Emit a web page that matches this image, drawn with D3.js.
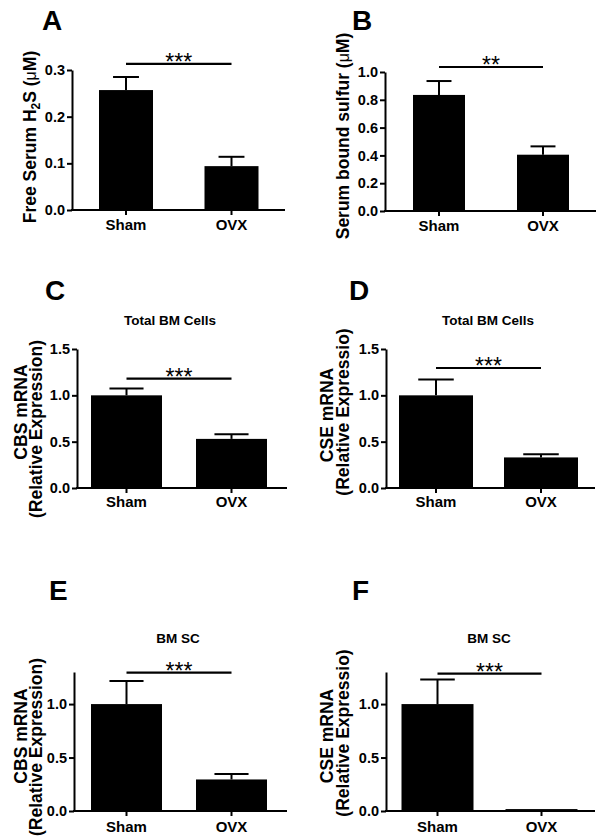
<!DOCTYPE html>
<html><head><meta charset="utf-8">
<script src="https://cdn.jsdelivr.net/npm/d3@7"></script>
<style>
body{margin:0;background:#fff}
svg{display:block}
text{font-family:"Liberation Sans",Arial,Helvetica,sans-serif;fill:#000}
</style>
</head><body>
<svg id="c" width="604" height="839"></svg>
<script>
// ---- data ----
const categories = ["Sham", "OVX"];
const panelLetters = ["A", "B", "C", "D", "E", "F"];
const meansA = [0.257, 0.094], errA = [0.028, 0.020];
const meansB = [0.835, 0.405], errB = [0.100, 0.060];
const meansC = [1.00, 0.53],   errC = [0.075, 0.050];
const meansD = [1.00, 0.33],   errD = [0.170, 0.035];
const meansE = [1.00, 0.295],  errE = [0.215, 0.052];
const meansF = [1.00, 0.018],  errF = [0.230, 0.0];
const ticksA = [0, 0.1, 0.2, 0.3];
const ticksB = [0, 0.2, 0.4, 0.6, 0.8, 1.0];
const ticksC = [0, 0.5, 1.0, 1.5];
const ticksD = [0, 0.5, 1.0, 1.5];
const ticksE = [0, 0.5, 1.0];
const ticksF = [0, 0.5, 1.0];
const yMaxes = [0.3, 1.0, 1.5, 1.5, 1.3, 1.3];
const sigValues = [0.313, 1.036, 1.18, 1.295, 1.295, 1.285];
const sigLabels = ["***", "**", "***", "***", "***", "***"];
const titles = ["", "", "Total BM Cells", "Total BM Cells", "BM SC", "BM SC"];
// y-axis labels: lines of segments (sub = subscript, thin = regular weight)
const yLabels = [
  [[{t:"Free Serum H"},{t:"2",sub:true},{t:"S ("},{t:"\u03bc",thin:true},{t:"M)"}]],
  [[{t:"Serum bound sulfur ("},{t:"\u03bc",thin:true},{t:"M)"}]],
  [[{t:"CBS mRNA"}],[{t:"(Relative Expression)"}]],
  [[{t:"CSE mRNA"}],[{t:"(Relative Expressio)"}]],
  [[{t:"CBS mRNA"}],[{t:"(Relative Expression)"}]],
  [[{t:"CSE mRNA"}],[{t:"(Relative Expressio)"}]]
];
const means = [meansA, meansB, meansC, meansD, meansE, meansF];
const errs = [errA, errB, errC, errD, errE, errF];
const ticks = [ticksA, ticksB, ticksC, ticksD, ticksE, ticksF];

// ---- layout ----
const layouts = [
  {x0:72,  x1:285, yTop:70,  yBot:210, c:[126,231.5],  bw:54, letter:[42,30],  lab:[[36,137]],            title:null,      xlabY:230},
  {x0:385, x1:596, yTop:72,  yBot:211, c:[439,543],    bw:52, letter:[352,30], lab:[[349,136]],           title:null,      xlabY:231},
  {x0:77,  x1:287, yTop:349, yBot:488, c:[126.5,231.5],bw:71, letter:[45,300], lab:[[27,412],[42,429]],   title:[170,325], xlabY:507},
  {x0:386, x1:595, yTop:349, yBot:488, c:[436,541],    bw:74, letter:[349,300],lab:[[333,415],[349,412]], title:[488,325], xlabY:507},
  {x0:74,  x1:287, yTop:672, yBot:811, c:[126.5,231.5],bw:71, letter:[49,600], lab:[[27,736],[42,747]],   title:[178,643], xlabY:832},
  {x0:386, x1:595, yTop:672, yBot:811, c:[437.5,541.5],bw:72, letter:[352,600],lab:[[333,736],[349,733]], title:[489,643], xlabY:832}
];

const svg = d3.select("#c");
const fmt = d3.format(".1f");

layouts.forEach((L, i) => {
  const g = svg.append("g");
  const step = L.c[1] - L.c[0];
  const pi = 1 - L.bw / step;
  const x = d3.scaleBand().domain(categories)
    .range([L.c[0] - step / 2, L.c[1] + step / 2])
    .paddingInner(pi).paddingOuter(pi / 2);
  const y = d3.scaleLinear().domain([0, yMaxes[i]]).range([L.yBot, L.yTop]);
  const data = categories.map((k, j) => ({k, m: means[i][j], e: errs[i][j]}));

  // panel letter
  g.append("text").attr("x", L.letter[0]).attr("y", L.letter[1])
    .attr("font-size", 28).attr("font-weight", "bold").text(panelLetters[i]);

  // title
  if (titles[i]) {
    g.append("text").attr("x", L.title[0]).attr("y", L.title[1])
      .attr("text-anchor", "middle").attr("font-size", 13.5).attr("font-weight", "bold")
      .text(titles[i]);
  }

  // bars
  g.selectAll("rect.bar").data(data).join("rect").attr("class", "bar")
    .attr("x", d => x(d.k)).attr("width", x.bandwidth())
    .attr("y", d => y(d.m)).attr("height", d => y(0) - y(d.m))
    .attr("fill", "#000");

  // error bars
  const cap = x.bandwidth() * 0.48;
  data.filter(d => d.e > 0).forEach(d => {
    const cx = x(d.k) + x.bandwidth() / 2;
    g.append("line").attr("x1", cx).attr("x2", cx)
      .attr("y1", y(d.m)).attr("y2", y(d.m + d.e))
      .attr("stroke", "#000").attr("stroke-width", 2);
    g.append("line").attr("x1", cx - cap / 2).attr("x2", cx + cap / 2)
      .attr("y1", y(d.m + d.e)).attr("y2", y(d.m + d.e))
      .attr("stroke", "#000").attr("stroke-width", 2);
  });

  // y axis
  const ya = g.append("g").attr("transform", `translate(${L.x0},0)`)
    .call(d3.axisLeft(y).tickValues(ticks[i]).tickFormat(fmt)
      .tickSize(5).tickSizeOuter(0).tickPadding(2));
  ya.select(".domain").attr("stroke-width", 2);
  ya.selectAll(".tick line").attr("stroke-width", 2);
  ya.selectAll(".tick text").attr("font-size", 14.5).attr("font-weight", "bold")
    .attr("font-family", '"Liberation Sans",Arial,sans-serif');

  // x axis
  const xa = g.append("g").attr("transform", `translate(0,${L.yBot})`)
    .call(d3.axisBottom(x).tickSize(5).tickSizeOuter(0).tickPadding(3));
  xa.select(".domain").remove();
  xa.selectAll(".tick line").attr("stroke-width", 2);
  xa.selectAll(".tick text").attr("font-size", 15).attr("font-weight", "bold")
    .attr("font-family", '"Liberation Sans",Arial,sans-serif')
    .attr("dy", null).attr("y", L.xlabY - L.yBot);
  g.append("line").attr("x1", L.x0 - 1).attr("x2", L.x1)
    .attr("y1", L.yBot).attr("y2", L.yBot)
    .attr("stroke", "#000").attr("stroke-width", 2);

  // significance
  const sx1 = x(categories[0]) + x.bandwidth() / 2;
  const sx2 = x(categories[1]) + x.bandwidth() / 2;
  const sy = y(sigValues[i]);
  g.append("line").attr("x1", sx1).attr("x2", sx2).attr("y1", sy).attr("y2", sy)
    .attr("stroke", "#000").attr("stroke-width", 2.2);
  g.append("text").attr("x", (sx1 + sx2) / 2).attr("y", sy + 6)
    .attr("text-anchor", "middle").attr("font-size", 23)
    .text(sigLabels[i]);

  // y labels
  yLabels[i].forEach((line, li) => {
    const p = L.lab[li];
    const t = g.append("text")
      .attr("transform", `translate(${p[0]},${p[1]}) rotate(-90)`)
      .attr("text-anchor", "middle").attr("font-size", 17.5).attr("font-weight", "bold");
    let shift = 0;
    line.forEach(seg => {
      const ts = t.append("tspan").text(seg.t);
      if (seg.sub) { ts.attr("font-size", 12).attr("dy", 4); shift = 4; }
      else if (shift) { ts.attr("dy", -shift); shift = 0; }
      if (seg.thin) ts.attr("font-weight", "normal").attr("font-size", 16);
    });
  });
});
</script>
</body></html>
